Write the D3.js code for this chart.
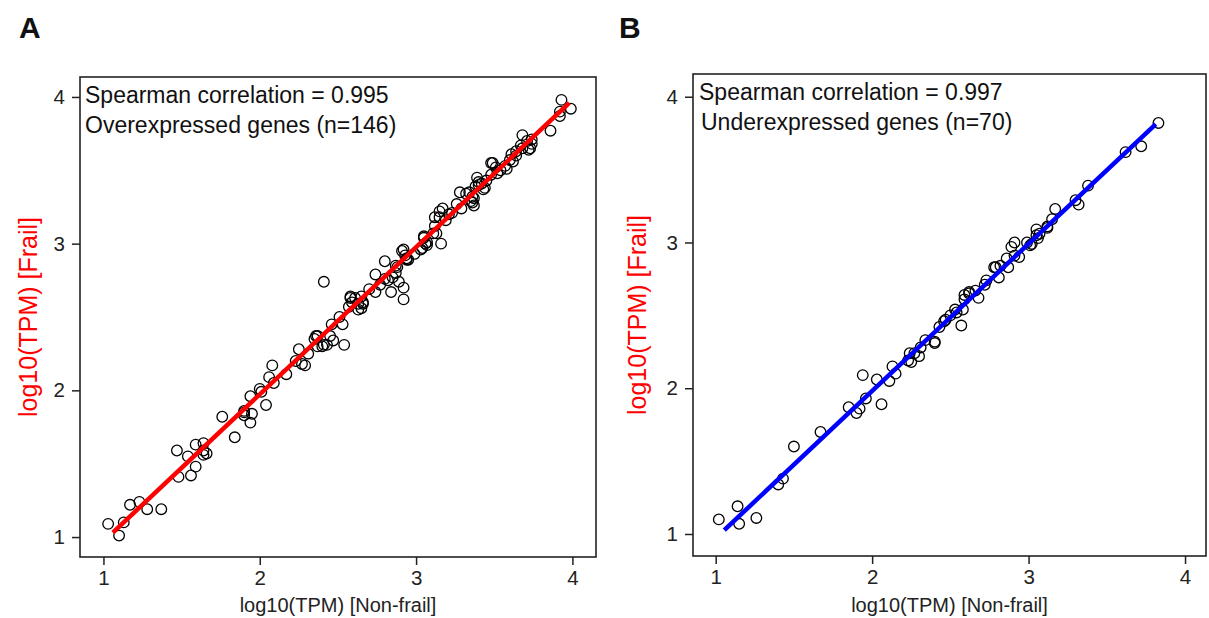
<!DOCTYPE html>
<html>
<head>
<meta charset="utf-8">
<script src="https://cdn.jsdelivr.net/npm/d3@7"></script>
<style>
  body { margin: 0; background: #fff; }
  svg { display: block; font-family: "Liberation Sans", Arial, sans-serif; }
</style>
</head>
<body>
<div id="wrapper"></div>
<script>

// overexpressed genes: log10(TPM) non-frail vs frail
const overNonFrail = [1.03,1.10,1.13,1.17,1.23,1.28,1.37,1.47,1.54,1.48,1.56,1.59,1.59,1.64,1.64,1.64,1.76,1.84,1.90,1.90,
  1.94,1.95,1.94,2.00,2.01,2.04,2.06,2.08,2.09,2.17,2.23,2.25,2.27,2.29,2.31,2.36,2.37,2.37,2.41,2.41,
  2.45,2.46,2.47,2.51,2.53,2.54,2.58,2.57,2.61,2.63,2.65,2.66,2.74,2.74,2.77,2.80,2.80,2.84,2.85,2.87,
  2.89,2.92,2.92,2.92,2.94,2.95,2.99,3.03,3.05,3.07,3.07,3.13,3.12,3.15,3.16,3.17,3.19,3.21,3.28,3.29,
  3.32,3.34,3.36,3.37,3.39,3.40,3.43,3.45,3.49,3.51,3.54,3.58,3.62,3.64,3.68,3.68,3.71,3.73,3.74,3.86,
  3.92,3.92,3.93,3.99,3.64,3.61,3.60,3.57,3.48,3.48,3.52,3.40,3.42,3.38,3.44,3.36,3.35,3.37,3.15,3.23,
  3.12,3.05,3.06,3.74,3.67,3.72,2.91,2.93,2.94,2.88,2.82,2.87,3.04,3.11,2.58,2.59,2.63,2.66,2.65,2.35,
  2.43,2.40,1.66,1.90,3.26,2.70];
const overFrail = [1.09,1.01,1.10,1.22,1.24,1.19,1.19,1.59,1.55,1.41,1.42,1.48,1.63,1.64,1.59,1.56,1.82,1.68,1.86,1.83,
  1.96,1.84,1.78,2.01,1.99,1.90,2.09,2.17,2.05,2.11,2.20,2.28,2.18,2.17,2.25,2.37,2.37,2.30,2.31,2.74,
  2.37,2.45,2.34,2.50,2.45,2.31,2.63,2.57,2.63,2.55,2.64,2.59,2.79,2.67,2.72,2.88,2.76,2.67,2.77,2.85,
  2.74,2.70,2.62,2.96,2.90,2.89,2.93,2.96,3.04,2.99,3.01,3.07,3.18,3.18,3.00,3.24,3.16,3.20,3.35,3.24,
  3.34,3.35,3.28,3.31,3.45,3.40,3.37,3.43,3.55,3.52,3.50,3.51,3.56,3.60,3.74,3.65,3.70,3.65,3.71,3.77,
  3.87,3.90,3.98,3.92,3.63,3.61,3.57,3.53,3.55,3.47,3.48,3.42,3.41,3.39,3.38,3.32,3.29,3.26,3.22,3.21,
  3.12,3.05,3.00,3.68,3.67,3.64,2.95,2.92,2.89,2.84,2.75,2.80,2.97,3.07,2.64,2.60,2.59,2.60,2.56,2.35,
  2.31,2.30,1.57,1.85,3.27,2.69];

// underexpressed genes
const underNonFrail = [1.02,1.14,1.15,1.26,1.40,1.43,1.50,1.67,1.85,1.90,1.92,1.94,1.96,2.03,2.06,2.11,2.13,2.15,2.23,2.24,
  2.25,2.30,2.31,2.34,2.40,2.40,2.43,2.46,2.47,2.53,2.54,2.57,2.58,2.59,2.59,2.62,2.66,2.68,2.72,2.73,
  2.78,2.81,2.82,2.86,2.87,2.89,2.91,2.91,2.94,2.99,3.01,3.02,3.05,3.06,3.07,3.12,3.15,3.17,3.30,3.32,
  3.38,3.62,3.72,3.83,2.79,3.05,3.12,2.50,2.27,2.62];
const underFrail = [1.10,1.19,1.07,1.11,1.34,1.38,1.60,1.70,1.87,1.83,1.86,2.09,1.93,2.06,1.89,2.05,2.15,2.10,2.19,2.24,
  2.18,2.22,2.28,2.33,2.32,2.31,2.42,2.46,2.47,2.54,2.52,2.43,2.54,2.61,2.64,2.66,2.67,2.62,2.71,2.74,
  2.83,2.76,2.84,2.89,2.83,2.97,3.00,2.91,2.90,3.00,2.98,2.99,3.09,3.03,3.06,3.11,3.16,3.23,3.29,3.26,
  3.39,3.62,3.66,3.82,2.83,3.05,3.10,2.50,2.24,2.65];

// fitted lines: [intercept, slope] and the x span they cover
const overFit = [-0.033, 1.003];
const overFitSpan = [1.06, 3.98];
const underFit = [-0.039, 1.010];
const underFitSpan = [1.055, 3.813];

const tickValues = [1, 2, 3, 4];
const panelLetters = ["A", "B"];
const noteLines = [
  ["Spearman correlation = 0.995", "Overexpressed genes (n=146)"],
  ["Spearman correlation = 0.997", "Underexpressed genes (n=70)"]
];
const xTitle = "log10(TPM) [Non-frail]";
const yTitle = "log10(TPM) [Frail]";

const svg = d3.select("#wrapper")
  .append("svg")
  .attr("width", 1209)
  .attr("height", 618);

svg.append("rect")
  .attr("width", 1209)
  .attr("height", 618)
  .attr("fill", "#fff");

function drawPanel(opts) {
  const box = opts.box;

  const x = d3.scaleLinear().domain(opts.xDomain).range([box.left, box.right]);
  const y = d3.scaleLinear().domain(opts.yDomain).range([box.bottom, box.top]);

  const g = svg.append("g");

  // axes, drawn with the frame edges
  g.append("g")
    .attr("transform", "translate(0," + box.bottom + ")")
    .call(d3.axisBottom(x).tickValues(tickValues).tickSize(8).tickPadding(5).tickFormat(d3.format("d")))
    .call(function(a) {
      a.select(".domain").remove();
      a.selectAll("line").attr("stroke", "#222").attr("stroke-width", 1.5);
      a.selectAll("text").attr("font-size", 20.5).attr("fill", "#222")
        .attr("font-family", "Liberation Sans, Arial, sans-serif");
    });

  g.append("g")
    .attr("transform", "translate(" + box.left + ",0)")
    .call(d3.axisLeft(y).tickValues(tickValues).tickSize(8).tickPadding(7).tickFormat(d3.format("d")))
    .call(function(a) {
      a.select(".domain").remove();
      a.selectAll("line").attr("stroke", "#222").attr("stroke-width", 1.5);
      a.selectAll("text").attr("font-size", 20.5).attr("fill", "#222")
        .attr("font-family", "Liberation Sans, Arial, sans-serif");
    });

  // frame
  g.append("rect")
    .attr("x", box.left)
    .attr("y", box.top)
    .attr("width", box.right - box.left)
    .attr("height", box.bottom - box.top)
    .attr("fill", "none")
    .attr("stroke", "#222")
    .attr("stroke-width", 1.6);

  // points
  const pts = opts.xs.map(function(v, i) { return [v, opts.ys[i]]; });
  g.selectAll(".pt")
    .data(pts)
    .enter()
    .append("circle")
    .attr("class", "pt")
    .attr("cx", function(d) { return x(d[0]); })
    .attr("cy", function(d) { return y(d[1]); })
    .attr("r", 5.3)
    .attr("fill", "none")
    .attr("stroke", "#000")
    .attr("stroke-width", 1.3);

  // regression line
  const fit = opts.fit;
  g.append("line")
    .attr("x1", x(opts.span[0]))
    .attr("y1", y(fit[0] + fit[1] * opts.span[0]))
    .attr("x2", x(opts.span[1]))
    .attr("y2", y(fit[0] + fit[1] * opts.span[1]))
    .attr("stroke", opts.lineColor)
    .attr("stroke-width", 4.5);

  // notes in the top left corner
  g.selectAll(".note")
    .data(opts.notes)
    .enter()
    .append("text")
    .attr("class", "note")
    .attr("x", function(d, i) { return box.left + opts.noteDx[i]; })
    .attr("y", function(d, i) { return box.top + 26 + i * 30; })
    .attr("font-size", 23)
    .attr("fill", "#111")
    .text(function(d) { return d; });

  // axis titles
  g.append("text")
    .attr("x", (box.left + box.right) / 2)
    .attr("y", 612)
    .attr("text-anchor", "middle")
    .attr("font-size", 20)
    .attr("fill", "#222")
    .text(xTitle);

  g.append("text")
    .attr("transform", "translate(" + (box.left - opts.yTitleGap) + "," + ((box.top + box.bottom) / 2) + ") rotate(-90)")
    .attr("text-anchor", "middle")
    .attr("font-size", 25)
    .attr("fill", "red")
    .text(yTitle);

  // panel letter
  svg.append("text")
    .attr("x", opts.letterX)
    .attr("y", 38)
    .attr("font-size", 30)
    .attr("font-weight", "bold")
    .attr("fill", "#111")
    .text(opts.letter);
}

drawPanel({
  box: {left: 80, right: 596, top: 77, bottom: 557},
  xDomain: [0.85, 4.151],
  yDomain: [0.864, 4.136],
  xs: overNonFrail,
  ys: overFrail,
  fit: overFit,
  span: overFitSpan,
  lineColor: "#ff0000",
  notes: noteLines[0],
  noteDx: [5, 5],
  yTitleGap: 43,
  letter: panelLetters[0],
  letterX: 19
});

drawPanel({
  box: {left: 693, right: 1206, top: 74, bottom: 556},
  xDomain: [0.855, 4.134],
  yDomain: [0.849, 4.156],
  xs: underNonFrail,
  ys: underFrail,
  fit: underFit,
  span: underFitSpan,
  lineColor: "#0000ff",
  notes: noteLines[1],
  noteDx: [6, 8],
  yTitleGap: 47,
  letter: panelLetters[1],
  letterX: 619
});

</script>
</body>
</html>
